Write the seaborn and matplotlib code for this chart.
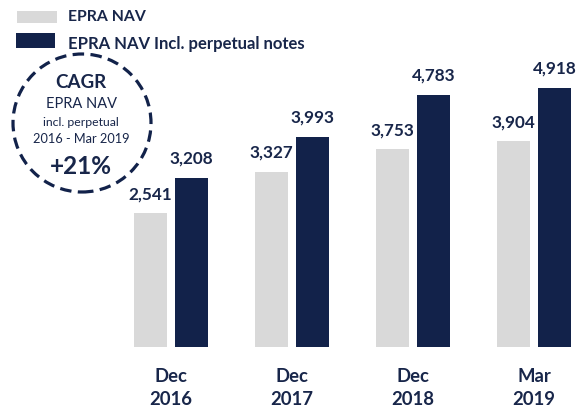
import matplotlib
matplotlib.use("Agg")
import matplotlib.pyplot as plt
import seaborn as sns
import pandas as pd
from matplotlib.patches import Circle, Rectangle

# ---- data ----
periods = ["Dec\n2016", "Dec\n2017", "Dec\n2018", "Mar\n2019"]
epra_nav = [2541, 3327, 3753, 3904]
epra_nav_incl = [3208, 3993, 4783, 4918]
series_names = ["EPRA NAV", "EPRA NAV Incl. perpetual notes"]
cagr_lines = ["CAGR", "EPRA NAV", "incl. perpetual", "2016 - Mar 2019", "+21%"]

LIGHT = "#D9D9D9"
DARK = "#12224A"
TEXT = "#18264A"

df = pd.DataFrame({
    "period": periods * 2,
    "series": [series_names[0]] * len(periods) + [series_names[1]] * len(periods),
    "value": epra_nav + epra_nav_incl,
})

sns.set_theme(style="white")
plt.rcParams["font.family"] = ["Lato", "DejaVu Sans"]

fig = plt.figure(figsize=(5.8, 4.08), dpi=100)
ax = fig.add_axes([0, 0.1495, 1, 0.8505])
sns.barplot(data=df, x="period", y="value", hue="series",
            palette=[LIGHT, DARK], width=0.68, gap=0.2, saturation=1,
            linewidth=0, legend=False, ax=ax)

for cont in ax.containers:
    vals = cont.datavalues
    ax.bar_label(cont, labels=[f"{v:,.0f}" for v in vals], padding=8,
                 fontsize=12.3, fontweight="bold", color=TEXT)

ax.set_xlim(-1.413, 3.38)
ax.set_ylim(0, 6588)
ax.set_xlabel("")
ax.set_ylabel("")
ax.set_yticks([])
for s in ax.spines.values():
    s.set_visible(False)
ax.tick_params(axis="x", length=0, pad=15, labelsize=13.3, labelcolor=TEXT)
for t in ax.get_xticklabels():
    t.set_fontweight("bold")
    t.set_linespacing(1.42)

# ---- legend (manual, pixel-accurate) ----
tr = fig.dpi_scale_trans
fig.add_artist(Rectangle((0.17, 3.85), 0.40, 0.12, transform=tr, facecolor=LIGHT, edgecolor="none"))
fig.add_artist(Rectangle((0.16, 3.60), 0.39, 0.15, transform=tr, facecolor=DARK, edgecolor="none"))
fig.text(0.68, 3.91, series_names[0], transform=tr, va="center", ha="left",
         fontsize=11.3, fontweight="bold", color=TEXT)
fig.text(0.68, 3.645, series_names[1], transform=tr, va="center", ha="left",
         fontsize=12, fontweight="bold", color=TEXT)

# ---- CAGR circle ----
fig.add_artist(Circle((0.82, 2.85), 0.69, transform=tr, fill=False,
                      edgecolor=DARK, linewidth=2.3, linestyle=(0, (3.6, 2.0))))
cx = 0.81
fig.text(cx, 3.26, cagr_lines[0], transform=tr, ha="center", va="center",
         fontsize=13.5, fontweight="bold", color=TEXT)
fig.text(cx, 3.04, cagr_lines[1], transform=tr, ha="center", va="center",
         fontsize=10.5, color=TEXT)
fig.text(cx, 2.86, cagr_lines[2], transform=tr, ha="center", va="center",
         fontsize=8.8, color=TEXT)
fig.text(cx, 2.69, cagr_lines[3], transform=tr, ha="center", va="center",
         fontsize=9.2, color=TEXT)
fig.text(cx, 2.41, cagr_lines[4], transform=tr, ha="center", va="center",
         fontsize=17.5, fontweight="bold", color=TEXT)

fig.savefig("out.png", dpi=100)
